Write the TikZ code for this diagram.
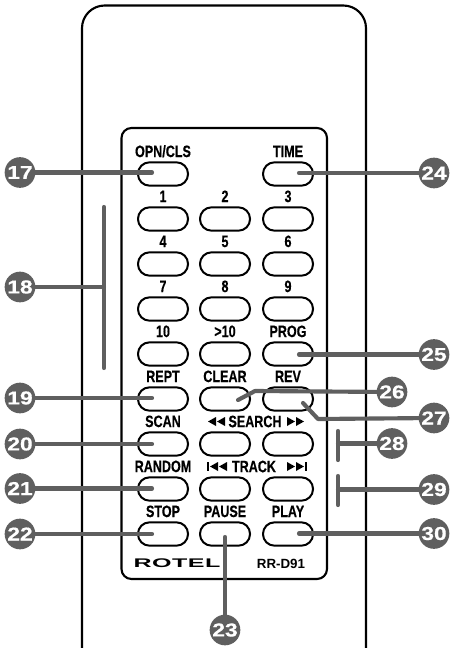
\documentclass[tikz,border=0pt]{standalone}
\usepackage{fontspec}
\newfontfamily\keyfont{Liberation Sans}[FakeStretch=0.76,FakeBold=0.35]
\newfontfamily\numfont{Liberation Sans}[FakeStretch=1.22,FakeBold=0.6]
\newfontfamily\logofont{Liberation Sans}[FakeStretch=2.0,LetterSpace=4]
\newfontfamily\modelfont{Liberation Sans}
\definecolor{leadgray}{HTML}{5F5F5F}
\tikzset{
  every label/.style={font=\keyfont\bfseries\fontsize{12.4}{12.4}\selectfont,inner sep=0pt,text depth=0pt,label distance=3pt},
  keybtn/.style={draw,line width=1.5pt,fill=white,rounded corners=8.6pt,minimum width=37.5pt,minimum height=17.5pt,inner sep=0pt},
  callout/.style={circle,fill=leadgray,text=white,inner sep=0pt,minimum size=23pt,font=\numfont\bfseries\fontsize{14}{14}\selectfont},
  leader/.style={draw=leadgray,line width=3.1pt,line cap=round,line join=round},
  caselines/.style={line width=1.6pt},
  keylabel/.style={font=\keyfont\bfseries\fontsize{12.4}{12.4}\selectfont,inner sep=0pt}
}
\newcommand{\keybtn}[3]{\node[keybtn,label={above:#3}] at (#1) (#2) {}}
\newcommand{\callout}[3]{\node[callout] at (#1) (#2) {#3}}
\newcommand{\fwdtip}[2]{\fill (#1,#2) ++(0,-4.5) -- ++(8,4.5) -- ++(-8,4.5) -- cycle}
\newcommand{\revtip}[2]{\fill (#1,#2) ++(0,-4.5) -- ++(-8,4.5) -- ++(8,4.5) -- cycle}

\begin{document}
\begin{tikzpicture}[x=0.75pt,y=-0.75pt]
  \useasboundingbox (0,0) rectangle (453,648);

  % case and key panel
  \draw[caselines,rounded corners=17pt] (82,648) -- (82,5.5) -- (366,5.5) -- (366,648);
  \draw[caselines,rounded corners=7.5pt] (121.5,128) rectangle (327,579);

  \keybtn{163,174}{opncls}{OPN/CLS};
  \keybtn{288,174}{time}{TIME};

  \keybtn{163,219}{k1}{1};
  \keybtn{225,219}{k2}{2};
  \keybtn{288,219}{k3}{3};
  \keybtn{163,264}{k4}{4};
  \keybtn{225,264}{k5}{5};
  \keybtn{288,264}{k6}{6};
  \keybtn{163,309}{k7}{7};
  \keybtn{225,309}{k8}{8};
  \keybtn{288,309}{k9}{9};
  \keybtn{163,354}{k10}{10};
  \keybtn{225,354}{k11}{>10};
  \keybtn{288,354}{prog}{PROG};

  \keybtn{163,399}{rept}{REPT};
  \keybtn{225,399}{clear}{CLEAR};
  \keybtn{288,399}{rev}{REV};
  \keybtn{163,444}{scan}{SCAN};
  \keybtn{225,444}{srev}{};
  \keybtn{288,444}{sfwd}{};
  \keybtn{163,489}{random}{RANDOM};
  \keybtn{225,489}{tprev}{};
  \keybtn{288,489}{tnext}{};
  \keybtn{163,534}{stop}{STOP};
  \keybtn{225,534}{pause}{PAUSE};
  \keybtn{288,534}{play}{PLAY};

  % search and track captions
  \node[keylabel] at (255,421.5) (search) {SEARCH};
  \revtip{216}{421.5};
  \revtip{225}{421.5};
  \fwdtip{287}{421.5};
  \fwdtip{296}{421.5};
  \node[keylabel] at (254,466.5) (track) {TRACK};
  \fill (207,462) rectangle (209,471);
  \revtip{218}{466.5};
  \revtip{227}{466.5};
  \fwdtip{287}{466.5};
  \fwdtip{296}{466.5};
  \fill (305,462) rectangle (307,471);

  \node[font=\logofont\bfseries\fontsize{9.4}{9.4}\selectfont,inner sep=0pt] at (177,563.5) (rotel) {ROTEL};
  \node[font=\modelfont\bfseries\fontsize{10}{10}\selectfont,inner sep=0pt] at (281,564) (model) {RR-D91};

  \callout{20,172.5}{c17}{17};
  \callout{20,287}{c18}{18};
  \callout{20,398}{c19}{19};
  \callout{20,444}{c20}{20};
  \callout{20,488.5}{c21}{21};
  \callout{20,534}{c22}{22};
  \callout{225,630}{c23}{23};
  \callout{434,173}{c24}{24};
  \callout{434,354.5}{c25}{25};
  \callout{392,392}{c26}{26};
  \callout{434,418}{c27}{27};
  \callout{392,443.5}{c28}{28};
  \callout{434,489.5}{c29}{29};
  \callout{434,533.5}{c30}{30};

  \coordinate (e17) at (152,172.5);
  \coordinate (e19) at (152,398);
  \coordinate (e20) at (152,444);
  \coordinate (e21) at (152,488.5);
  \coordinate (e22) at (152,534);
  \coordinate (e23) at (225,537);
  \coordinate (e24) at (299,173);
  \coordinate (e25) at (299,354.5);
  \coordinate (e30) at (299,533.5);
  \coordinate (b18) at (104,287);
  \coordinate (b28) at (338,443.5);
  \coordinate (b29) at (338,489.5);

  \draw[leader] (c17) -- (e17);
  \draw[leader] (c19) -- (e19);
  \draw[leader] (c20) -- (e20);
  \draw[leader] (c21) -- (e21);
  \draw[leader] (c22) -- (e22);
  \draw[leader] (c23) -- (e23);
  \draw[leader] (c24) -- (e24);
  \draw[leader] (c25) -- (e25);
  \draw[leader] (c30) -- (e30);

  % bracketed groups
  \draw[leader] (c18) -- (b18);
  \draw[leader] (104,207) -- (104,368);
  \draw[leader] (c28) -- (b28);
  \draw[leader] (338,431) -- (338,460);
  \draw[leader] (c29) -- (b29);
  \draw[leader] (338,476) -- (338,505);

  % the two bent ones
  \draw[leader] (c26) -- (255,391) -- (238,400);
  \draw[leader] (c27) -- (318,419) -- (303,403);
\end{tikzpicture}
\end{document}
